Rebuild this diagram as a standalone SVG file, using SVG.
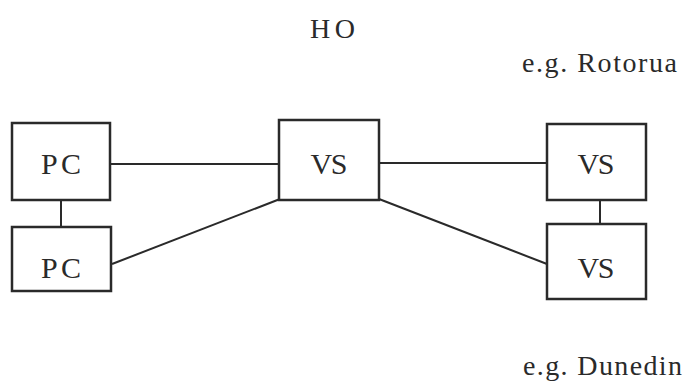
<svg xmlns="http://www.w3.org/2000/svg" width="685" height="383" viewBox="0 0 685 383">
<style>
.box{fill:#fff;stroke:#2a2a2a;stroke-width:2.5}
.ln{stroke:#2a2a2a;stroke-width:2;fill:none}
text{font-family:"Liberation Serif","Times New Roman",serif;fill:#2a2a2a}
.lbl{font-size:30px;text-anchor:middle}
.cap{font-size:28px}
</style>
<rect width="685" height="383" fill="#fff"/>
<g id="connectors">
<line class="ln" x1="110" y1="164" x2="279" y2="164"/>
<line class="ln" x1="61" y1="200" x2="61" y2="227"/>
<line class="ln" x1="112" y1="264" x2="280" y2="199"/>
<line class="ln" x1="379" y1="163" x2="547" y2="163"/>
<line class="ln" x1="600" y1="200" x2="600" y2="224"/>
<line class="ln" x1="379" y1="199" x2="547" y2="264"/>
</g>
<g id="pc1"><rect class="box" x="12" y="123" width="98" height="77"/><text class="lbl" x="61" y="174" textLength="40">PC</text></g>
<g id="pc2"><rect class="box" x="12" y="227" width="99" height="64"/><text class="lbl" x="61" y="278" textLength="40">PC</text></g>
<g id="vs-ho"><rect class="box" x="279" y="120" width="100" height="80"/><text class="lbl" x="329" y="174" textLength="37">VS</text></g>
<g id="vs-rotorua"><rect class="box" x="547" y="124" width="99" height="76"/><text class="lbl" x="596" y="174" textLength="37">VS</text></g>
<g id="vs-dunedin"><rect class="box" x="547" y="224" width="99" height="75"/><text class="lbl" x="596" y="278" textLength="37">VS</text></g>
<text class="cap" x="310" y="38" textLength="45">HO</text>
<text class="cap" x="522" y="72" textLength="155">e.g. Rotorua</text>
<text class="cap" x="523" y="375" textLength="159">e.g. Dunedin</text>
</svg>
